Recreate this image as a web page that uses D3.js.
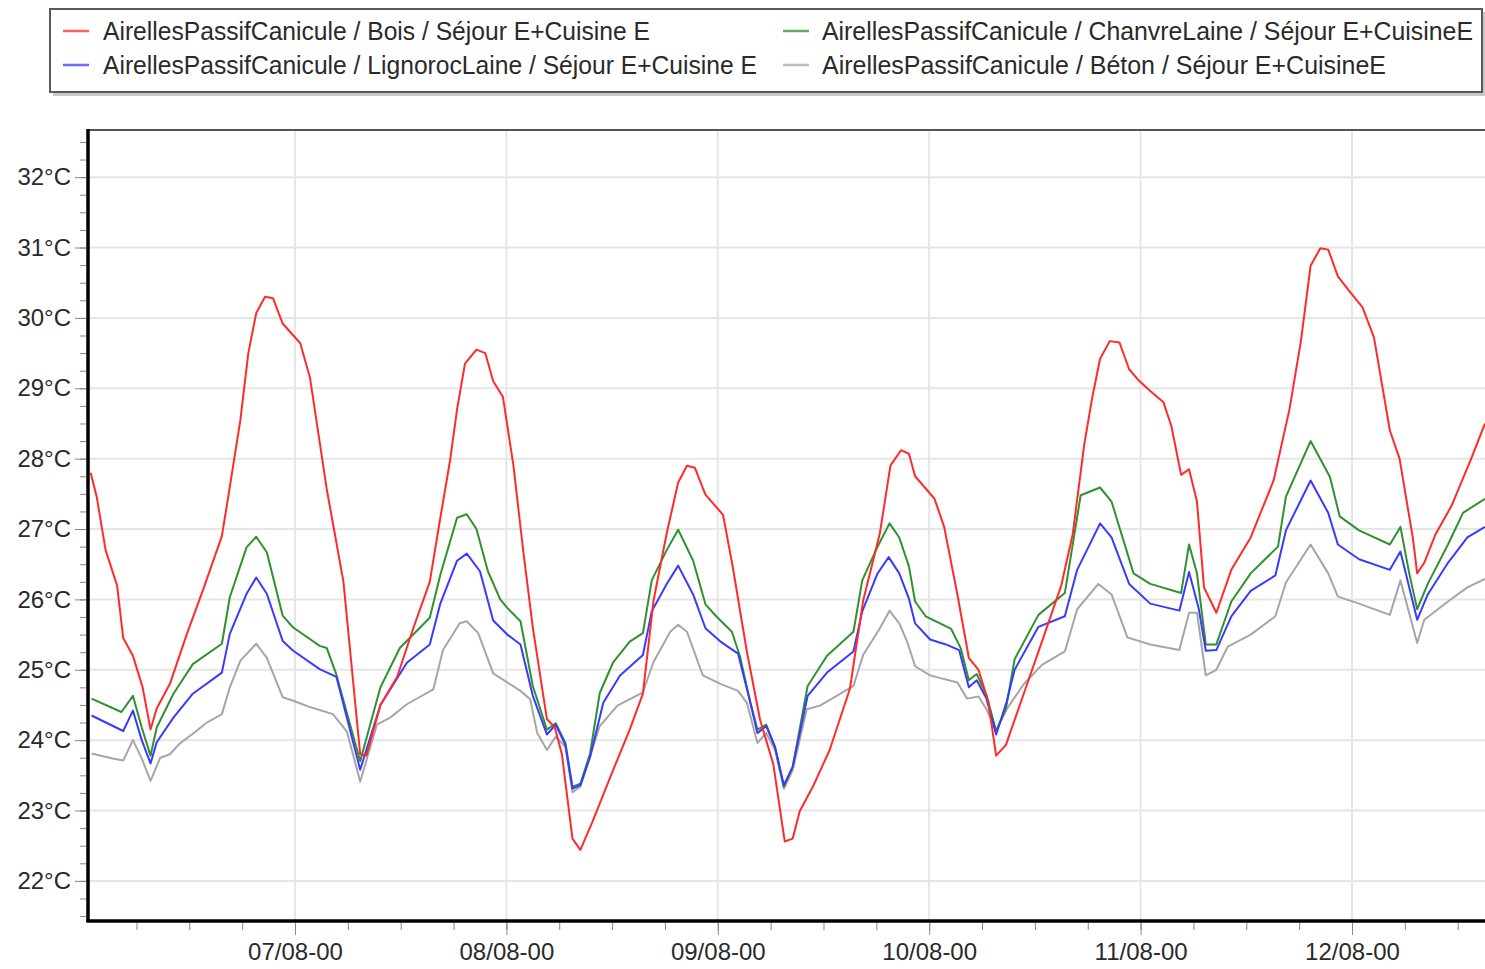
<!DOCTYPE html>
<html>
<head>
<meta charset="utf-8">
<script src="https://cdn.jsdelivr.net/npm/d3@7"></script>
<style>
  body { margin: 0; background: #fff; }
  text { font-family: "Liberation Sans", Arial, sans-serif; }
</style>
</head>
<body>
<svg id="chart" width="1485" height="969"></svg>
<script>
// hours counted from 06/08 00:00
const boisHours = [0.8, 1.5, 2.5, 3.8, 4.5, 5.6, 6.7, 7.6, 8.3, 9.8, 11.7, 13.6, 15.7, 16.6, 17.8, 18.7, 19.6, 20.6, 21.5, 22.6, 24.6, 25.7, 27.6, 29.5, 31.4, 32.1, 33.7, 35.6, 37.4, 39.3, 40.5, 41.6, 42.4, 43.3, 44.6, 45.6, 46.5, 47.6, 48.8, 49.9, 51.0, 52.6, 53.5, 54.3, 55.5, 56.4, 57.8, 60.1, 62.0, 63.5, 64.7, 66.2, 67.5, 68.5, 69.4, 70.6, 72.6, 73.7, 75.3, 76.8, 78.3, 79.6, 80.5, 81.3, 82.8, 84.7, 87.0, 88.5, 90.4, 91.6, 92.8, 93.7, 94.4, 96.6, 97.7, 99.2, 100.5, 101.6, 102.7, 103.6, 104.7, 107.1, 108.8, 111.0, 112.3, 113.6, 114.5, 115.4, 116.5, 117.6, 118.7, 119.8, 121.1, 122.6, 123.5, 124.6, 125.5, 126.4, 127.2, 128.6, 130.3, 132.5, 135.1, 136.9, 138.2, 139.3, 140.4, 141.3, 142.4, 143.7, 145.2, 146.5, 148.3, 149.4, 150.9, 151.4, 152.2, 153.5, 155.3, 157.5, 159.1];
const boisTemps = [27.8, 27.45, 26.7, 26.2, 25.45, 25.2, 24.75, 24.15, 24.45, 24.8, 25.5, 26.15, 26.9, 27.6, 28.55, 29.5, 30.07, 30.3, 30.28, 29.92, 29.64, 29.15, 27.57, 26.25, 23.8, 23.78, 24.5, 24.9, 25.58, 26.25, 27.16, 27.97, 28.7, 29.35, 29.55, 29.5, 29.1, 28.88, 27.9, 26.7, 25.6, 24.3, 24.18, 23.8, 22.6, 22.44, 22.85, 23.57, 24.15, 24.66, 25.98, 26.94, 27.66, 27.9, 27.87, 27.49, 27.2, 26.46, 25.26, 24.29, 23.66, 22.56, 22.6, 22.99, 23.34, 23.86, 24.73, 25.98, 26.94, 27.9, 28.12, 28.07, 27.75, 27.43, 27.03, 26.07, 25.17, 25.0, 24.55, 23.78, 23.93, 24.79, 25.4, 26.2, 26.93, 28.2, 28.86, 29.42, 29.67, 29.65, 29.27, 29.11, 28.96, 28.8, 28.46, 27.77, 27.85, 27.39, 26.17, 25.81, 26.42, 26.88, 27.69, 28.7, 29.67, 30.74, 30.99, 30.97, 30.59, 30.38, 30.15, 29.72, 28.4, 28.0, 26.88, 26.37, 26.52, 26.93, 27.33, 27.99, 28.5];

const chanvreHours = [0.9, 4.3, 5.6, 6.6, 7.6, 8.3, 10.2, 12.4, 15.7, 16.6, 18.5, 19.6, 20.8, 22.6, 23.8, 26.8, 27.6, 28.7, 31.4, 33.7, 35.9, 39.3, 40.5, 42.4, 43.5, 44.6, 45.9, 47.3, 48.1, 49.6, 51.0, 52.6, 53.6, 54.7, 55.5, 56.4, 57.5, 58.6, 60.1, 62.0, 63.5, 64.5, 66.2, 67.5, 69.2, 70.6, 71.9, 73.6, 74.5, 75.7, 76.5, 77.5, 78.5, 79.5, 80.5, 82.2, 84.4, 87.4, 88.4, 90.1, 91.5, 92.6, 93.7, 94.4, 95.6, 98.5, 99.6, 100.5, 101.4, 102.5, 103.6, 104.7, 105.7, 108.4, 111.4, 113.2, 115.4, 116.7, 119.2, 121.1, 124.6, 125.5, 126.4, 127.4, 128.6, 130.3, 132.5, 135.6, 136.5, 139.3, 141.5, 142.6, 144.8, 148.3, 149.5, 150.5, 151.4, 152.6, 154.9, 156.6, 159.1];
const chanvreTemps = [24.59, 24.4, 24.63, 24.18, 23.78, 24.18, 24.66, 25.08, 25.37, 26.03, 26.74, 26.89, 26.67, 25.77, 25.6, 25.34, 25.31, 24.93, 23.7, 24.75, 25.31, 25.74, 26.35, 27.16, 27.21, 27.0, 26.4, 26.0, 25.88, 25.69, 24.77, 24.15, 24.24, 23.96, 23.34, 23.38, 23.81, 24.67, 25.1, 25.4, 25.52, 26.27, 26.7, 26.99, 26.55, 25.93, 25.75, 25.54, 25.2, 24.53, 24.15, 24.22, 23.9, 23.34, 23.62, 24.77, 25.2, 25.54, 26.27, 26.74, 27.08, 26.88, 26.47, 25.97, 25.76, 25.58, 25.3, 24.85, 24.94, 24.64, 24.13, 24.44, 25.15, 25.78, 26.09, 27.48, 27.59, 27.39, 26.37, 26.22, 26.09, 26.78, 26.37, 25.36, 25.36, 25.97, 26.37, 26.75, 27.46, 28.25, 27.74, 27.18, 26.98, 26.78, 27.03, 26.37, 25.86, 26.22, 26.78, 27.23, 27.43];

const lignorocHours = [0.9, 4.5, 5.6, 6.6, 7.6, 8.3, 10.2, 12.4, 15.7, 16.6, 18.5, 19.6, 20.8, 22.6, 23.8, 26.8, 28.7, 31.4, 33.7, 36.7, 39.3, 40.5, 42.4, 43.5, 45.0, 46.5, 48.1, 49.6, 51.0, 52.6, 53.6, 54.7, 55.5, 56.4, 57.5, 59.0, 60.9, 63.5, 64.5, 66.2, 67.5, 69.2, 70.6, 72.3, 74.3, 75.7, 76.5, 77.5, 78.5, 79.5, 80.5, 82.2, 84.4, 87.4, 88.4, 90.1, 91.4, 92.6, 93.7, 94.4, 96.1, 97.9, 99.4, 100.5, 101.4, 102.5, 103.6, 104.8, 105.7, 108.4, 111.4, 112.8, 115.4, 116.7, 118.7, 121.1, 124.4, 125.5, 126.6, 127.4, 128.6, 130.3, 132.5, 135.3, 136.5, 139.3, 141.3, 142.4, 144.8, 148.3, 149.5, 151.4, 152.6, 154.9, 157.1, 159.1];
const lignorocTemps = [24.35, 24.13, 24.42, 24.0, 23.67, 23.97, 24.32, 24.66, 24.96, 25.51, 26.08, 26.31, 26.08, 25.41, 25.27, 25.01, 24.9, 23.58, 24.5, 25.1, 25.36, 25.94, 26.55, 26.65, 26.4, 25.7, 25.5, 25.36, 24.63, 24.08, 24.22, 23.93, 23.31, 23.36, 23.76, 24.53, 24.92, 25.21, 25.83, 26.22, 26.48, 26.07, 25.59, 25.4, 25.23, 24.53, 24.1, 24.2, 23.9, 23.36, 23.62, 24.63, 24.96, 25.26, 25.83, 26.36, 26.6, 26.37, 26.01, 25.66, 25.43, 25.36, 25.28, 24.75, 24.85, 24.59, 24.08, 24.55, 25.0, 25.61, 25.76, 26.42, 27.08, 26.88, 26.22, 25.94, 25.84, 26.39, 25.87, 25.27, 25.28, 25.76, 26.12, 26.34, 26.98, 27.69, 27.23, 26.78, 26.57, 26.42, 26.68, 25.71, 26.07, 26.52, 26.88, 27.03];

const betonHours = [0.9, 3.3, 4.5, 5.6, 6.6, 7.6, 8.7, 9.8, 10.9, 12.4, 14.0, 15.7, 16.6, 17.8, 19.6, 20.8, 22.6, 23.8, 25.7, 28.3, 29.9, 31.4, 33.3, 34.8, 36.7, 39.7, 40.8, 42.7, 43.5, 44.8, 46.5, 49.6, 50.7, 51.5, 52.6, 53.6, 54.7, 55.5, 56.4, 58.6, 60.6, 63.5, 64.7, 66.6, 67.5, 68.5, 70.3, 72.3, 74.3, 75.3, 76.5, 77.5, 78.5, 79.5, 80.5, 82.1, 83.6, 85.5, 87.4, 88.5, 90.4, 91.5, 92.6, 93.5, 94.4, 96.1, 99.2, 100.3, 101.6, 102.5, 103.6, 104.8, 106.7, 108.8, 111.4, 112.8, 115.2, 116.7, 118.5, 121.1, 124.4, 125.5, 126.4, 127.4, 128.6, 129.9, 132.5, 135.3, 136.5, 139.3, 141.3, 142.4, 144.8, 148.3, 149.5, 151.4, 152.2, 154.9, 157.1, 159.1];
const betonTemps = [23.81, 23.74, 23.71, 24.0, 23.74, 23.42, 23.75, 23.8, 23.95, 24.09, 24.25, 24.37, 24.75, 25.13, 25.37, 25.17, 24.61, 24.56, 24.47, 24.37, 24.12, 23.41, 24.22, 24.32, 24.51, 24.72, 25.28, 25.66, 25.69, 25.52, 24.95, 24.7, 24.58, 24.1, 23.86, 24.05, 23.9, 23.26, 23.34, 24.2, 24.49, 24.68, 25.11, 25.54, 25.64, 25.54, 24.92, 24.8, 24.7, 24.53, 23.96, 24.1, 23.86, 23.31, 23.57, 24.44, 24.49, 24.63, 24.77, 25.21, 25.59, 25.84, 25.66, 25.4, 25.05, 24.92, 24.82, 24.59, 24.62, 24.44, 24.13, 24.44, 24.79, 25.07, 25.26, 25.86, 26.22, 26.07, 25.46, 25.36, 25.28, 25.81, 25.81, 24.92, 25.0, 25.33, 25.5, 25.76, 26.24, 26.78, 26.37, 26.04, 25.94, 25.78, 26.27, 25.38, 25.71, 25.97, 26.17, 26.29];

const seriesNames = [
  "AirellesPassifCanicule / Bois / Séjour E+Cuisine E",
  "AirellesPassifCanicule / LignorocLaine / Séjour E+Cuisine E",
  "AirellesPassifCanicule / ChanvreLaine / Séjour E+CuisineE",
  "AirellesPassifCanicule / Béton / Séjour E+CuisineE"
];
const seriesColors = ["#ff2b2b", "#3a3aff", "#2f922f", "#a6a6a6"];
const yTickValues = [22, 23, 24, 25, 26, 27, 28, 29, 30, 31, 32];

const base = Date.UTC(2021, 7, 6, 0, 0);
const toDate = h => new Date(base + h * 3600e3);

const series = [
  { name: seriesNames[0], color: seriesColors[0], hours: boisHours, temps: boisTemps },
  { name: seriesNames[1], color: seriesColors[1], hours: lignorocHours, temps: lignorocTemps },
  { name: seriesNames[2], color: seriesColors[2], hours: chanvreHours, temps: chanvreTemps },
  { name: seriesNames[3], color: seriesColors[3], hours: betonHours, temps: betonTemps }
].map(s => ({ ...s, points: s.hours.map((h, i) => ({ t: toDate(h), v: s.temps[i] })) }));

const svg = d3.select("#chart");
const plotLeft = 88, plotTop = 130, plotRight = 1485, plotBottom = 921;

const x = d3.scaleUtc().domain([toDate(0.5), toDate(159.1)]).range([plotLeft, plotRight]);
const y = d3.scaleLinear().domain([21.43, 32.67]).range([plotBottom, plotTop]);

// legend box with shadow
svg.append("rect").attr("x", 53).attr("y", 12).attr("width", 1434).attr("height", 84).attr("fill", "#c8c8c8");
svg.append("rect").attr("x", 50).attr("y", 9).attr("width", 1432).attr("height", 83)
  .attr("fill", "#fff").attr("stroke", "#5a5a5a").attr("stroke-width", 2);

const legendItems = [
  { s: series[0], lx: 63, tx: 103, ty: 31, w: 547 },
  { s: series[1], lx: 63, tx: 103, ty: 65, w: 654 },
  { s: series[2], lx: 783, tx: 822, ty: 31, w: 651 },
  { s: series[3], lx: 783, tx: 822, ty: 65, w: 564 }
];
const leg = svg.append("g").selectAll("g").data(legendItems).join("g");
leg.append("line")
  .attr("x1", d => d.lx).attr("x2", d => d.lx + 26)
  .attr("y1", d => d.ty).attr("y2", d => d.ty)
  .attr("stroke", d => d.s.color).attr("stroke-width", 2.5).attr("opacity", 0.75);
leg.append("text")
  .attr("x", d => d.tx).attr("y", d => d.ty)
  .attr("dominant-baseline", "central")
  .attr("font-size", 25).attr("fill", "#2a2a2a")
  .attr("textLength", d => d.w).attr("lengthAdjust", "spacingAndGlyphs")
  .text(d => d.s.name);

// grid
const grid = svg.append("g");
grid.selectAll(".hg").data(yTickValues).join("line")
  .attr("x1", plotLeft).attr("x2", plotRight)
  .attr("y1", d => y(d)).attr("y2", d => y(d))
  .attr("stroke", "#e6e6e6").attr("stroke-width", 2);
grid.selectAll(".vg").data(x.ticks(d3.utcDay.every(1))).join("line")
  .attr("x1", d => x(d)).attr("x2", d => x(d))
  .attr("y1", plotTop).attr("y2", plotBottom)
  .attr("stroke", "#e6e6e6").attr("stroke-width", 2);

// plot top border
svg.append("line").attr("x1", plotLeft).attr("x2", plotRight).attr("y1", plotTop).attr("y2", plotTop)
  .attr("stroke", "#555").attr("stroke-width", 2);

// lines
svg.append("clipPath").attr("id", "clip").append("rect")
  .attr("x", plotLeft).attr("y", plotTop).attr("width", plotRight - plotLeft).attr("height", plotBottom - plotTop);
const line = d3.line().x(d => x(d.t)).y(d => y(d.v));
const drawOrder = [series[3], series[2], series[1], series[0]];
svg.append("g").attr("clip-path", "url(#clip)")
  .selectAll("path").data(drawOrder).join("path")
  .attr("d", d => line(d.points))
  .attr("fill", "none").attr("stroke", d => d.color)
  .attr("stroke-width", 2).attr("stroke-linejoin", "round");

// y axis: minor ticks then major ticks + labels
svg.append("g").attr("transform", `translate(${plotLeft - 2},0)`)
  .call(d3.axisLeft(y).tickValues(d3.range(21.5, 32.6, 0.25)).tickSize(6).tickFormat(""))
  .call(g => g.select(".domain").remove())
  .call(g => g.selectAll("line").attr("stroke", "#888"));
svg.append("g").attr("transform", `translate(${plotLeft - 2},0)`)
  .call(d3.axisLeft(y).tickValues(yTickValues).tickSize(11).tickPadding(4).tickFormat(d => d + "°C"))
  .call(g => g.select(".domain").remove())
  .call(g => g.selectAll("line").attr("stroke", "#888"))
  .call(g => g.selectAll("text").attr("font-size", 24).attr("fill", "#2a2a2a")
    .attr("font-family", "'Liberation Sans', Arial, sans-serif"));

// x axis: minor ticks every 6h, major ticks each day
svg.append("g").attr("transform", `translate(0,${plotBottom + 2})`)
  .call(d3.axisBottom(x).ticks(d3.utcHour.every(6)).tickSize(7).tickFormat(""))
  .call(g => g.select(".domain").remove())
  .call(g => g.selectAll("line").attr("stroke", "#888"));
svg.append("g").attr("transform", `translate(0,${plotBottom + 2})`)
  .call(d3.axisBottom(x).ticks(d3.utcDay.every(1)).tickSize(12).tickPadding(8)
    .tickFormat(d3.utcFormat("%d/%m-%H")))
  .call(g => g.select(".domain").remove())
  .call(g => g.selectAll("line").attr("stroke", "#888"))
  .call(g => g.selectAll("text").attr("font-size", 24).attr("fill", "#2a2a2a")
    .attr("font-family", "'Liberation Sans', Arial, sans-serif"));

// axis lines
svg.append("line").attr("x1", plotLeft).attr("x2", plotLeft).attr("y1", plotTop - 1).attr("y2", plotBottom + 1)
  .attr("stroke", "#000").attr("stroke-width", 3.5);
svg.append("line").attr("x1", plotLeft - 1.5).attr("x2", plotRight).attr("y1", plotBottom).attr("y2", plotBottom)
  .attr("stroke", "#000").attr("stroke-width", 3.5);
</script>
</body>
</html>
